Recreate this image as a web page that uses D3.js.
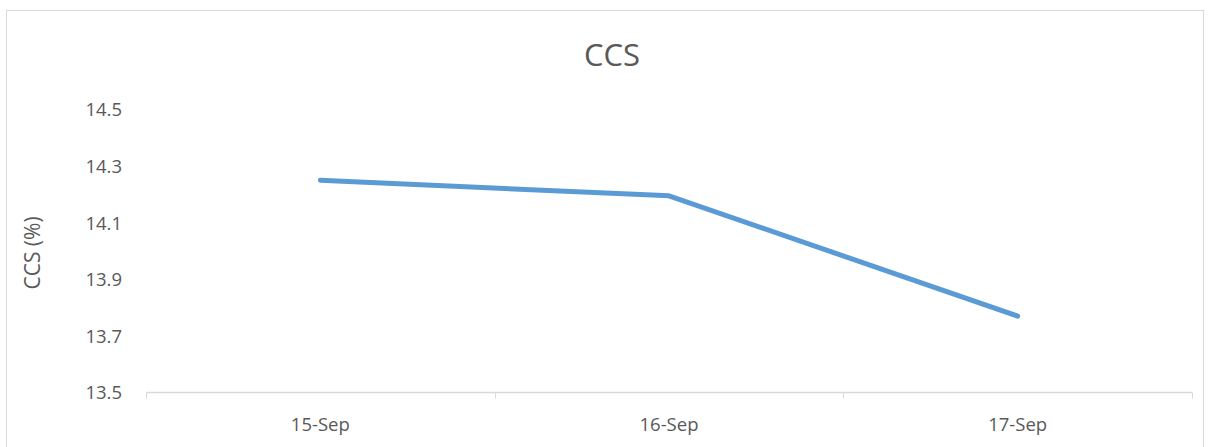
<!DOCTYPE html>
<html>
<head>
<meta charset="utf-8">
<script src="https://cdn.jsdelivr.net/npm/d3@7"></script>
<style>
  html, body { margin: 0; padding: 0; background: #fff; }
  svg text { font-family: "Open Sans", "Liberation Sans", sans-serif; fill: #595959; }
</style>
</head>
<body>
<svg id="chart" width="1210" height="447"></svg>
<script>
// CCS readings by date
const categories = ["15-Sep", "16-Sep", "17-Sep"];
const ccsValues = [14.25, 14.195, 13.77];
const yTicks = [13.5, 13.7, 13.9, 14.1, 14.3, 14.5];

const svg = d3.select("#chart");

// chart frame
svg.append("rect")
  .attr("x", 6.5).attr("y", 10.5)
  .attr("width", 1197).attr("height", 450)
  .attr("fill", "#fff").attr("stroke", "#d9d9d9").attr("stroke-width", 1);

const plot = { left: 146, right: 1192, top: 109.5, bottom: 392.5 };

const x = d3.scaleBand().domain(categories).range([plot.left, plot.right]).paddingInner(0).paddingOuter(0);
const y = d3.scaleLinear().domain([13.5, 14.5]).range([plot.bottom, plot.top]);

// title
svg.append("text")
  .attr("x", 612).attr("y", 66)
  .attr("text-anchor", "middle")
  .style("font-size", "31px")
  .text("CCS");

// y axis labels (no axis line)
const yAxis = d3.axisLeft(y).tickValues(yTicks).tickFormat(d3.format(".1f")).tickSize(0).tickPadding(0);
const yg = svg.append("g").attr("transform", `translate(${plot.left - 24},0)`).call(yAxis);
yg.select(".domain").remove();
yg.selectAll("text").style("font-size", "18.5px").attr("dy", "0.35em").attr("fill", "#595959");

// x axis line with boundary ticks
const xAxisG = svg.append("g").attr("transform", `translate(0,${plot.bottom})`);
xAxisG.append("line")
  .attr("x1", plot.left).attr("x2", plot.right)
  .attr("stroke", "#d9d9d9").attr("stroke-width", 1.3);
const boundaries = categories.map(c => x(c)).concat([x(categories[categories.length - 1]) + x.bandwidth()]);
xAxisG.selectAll("line.tick")
  .data(boundaries).enter().append("line")
  .attr("class", "tick")
  .attr("x1", d => Math.round(d) + 0.5).attr("x2", d => Math.round(d) + 0.5)
  .attr("y1", 0).attr("y2", 6)
  .attr("stroke", "#d9d9d9").attr("stroke-width", 1);
xAxisG.selectAll("text.cat")
  .data(categories).enter().append("text")
  .attr("class", "cat")
  .attr("x", d => x(d) + x.bandwidth() / 2)
  .attr("y", 38)
  .attr("text-anchor", "middle")
  .style("font-size", "18.5px")
  .text(d => d);

// y axis title
svg.append("text")
  .attr("transform", `translate(40,${(plot.top + plot.bottom) / 2 + 2}) rotate(-90)`)
  .attr("text-anchor", "middle")
  .style("font-size", "21px")
  .text("CCS (%)");

// series line
const line = d3.line()
  .x((d, i) => x(categories[i]) + x.bandwidth() / 2)
  .y(d => y(d));
svg.append("path")
  .datum(ccsValues)
  .attr("d", line)
  .attr("fill", "none")
  .attr("stroke", "#5b9bd5")
  .attr("stroke-width", 5)
  .attr("stroke-linecap", "round")
  .attr("stroke-linejoin", "round");
</script>
</body>
</html>
